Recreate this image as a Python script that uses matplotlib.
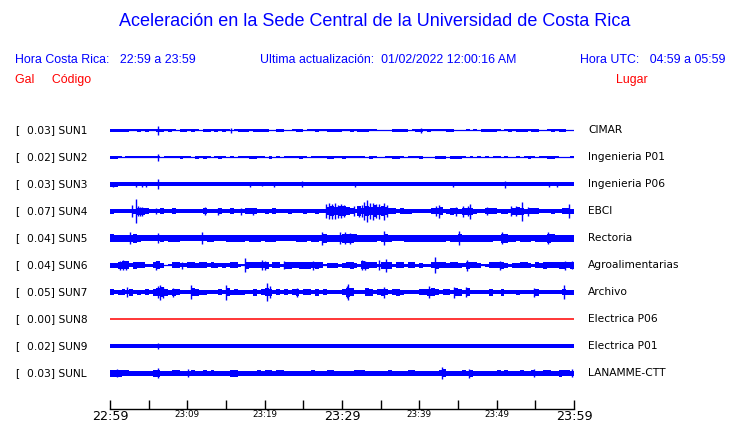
import numpy as np
import matplotlib
matplotlib.use("Agg")
import matplotlib.pyplot as plt

# ---------------- data ----------------
stations = ["SUN1", "SUN2", "SUN3", "SUN4", "SUN5", "SUN6", "SUN7", "SUN8", "SUN9", "SUNL"]
peaks = [0.03, 0.02, 0.03, 0.07, 0.04, 0.04, 0.05, 0.00, 0.02, 0.03]
places = ["CIMAR", "Ingenieria P01", "Ingenieria P06", "EBCI", "Rectoria",
          "Agroalimentarias", "Archivo", "Electrica P06", "Electrica P01", "LANAMME-CTT"]

# envelope half-width of each trace per half minute (base-36 digit, in half-pixel units)
env_sun1 = ("33333 22323 22332 32133 23213 32323 21233 32333 31133 11233 12232 23333 "
            "22323 33221 11133 33123 32322 22331 11212 13333 21232 33323 31123 23311")
env_sun2 = ("33212 22222 22212 22232 21323 21232 12122 23322 13121 22223 21222 23322 "
            "32222 21321 12233 21222 31113 33133 32121 21212 21211 21232 12233 21112")
env_sun3 = ("55444 44444 44444 44444 44444 44444 44444 44444 44444 44444 44444 44444 "
            "44444 44444 44444 44444 44444 44444 44444 44444 44444 44444 44444 44444")
env_sun4 = ("54444 45776 44464 46444 44446 44464 46444 66644 54644 45444 54454 48a8a "
            "a864a 6a8c8 a8664 65544 44466 84576 57775 44666 45547 87566 64445 44665")
env_sun5 = ("87777 79766 66676 77766 66666 77666 77777 67776 77766 66677 76776 97777 "
            "99987 77776 78766 67777 77777 77677 87777 77776 69977 67776 77798 77777")
env_sun6 = ("55788 47663 36851 26644 66566 46545 46632 76666 73663 77667 77676 25553 "
            "56753 87663 77736 63663 53367 66566 54766 52366 67535 56653 65766 67767")
env_sun7 = ("64564 74546 478a7 57644 48755 44464 85655 44746 87464 64674 66474 64444 "
            "69844 48746 76467 54444 66786 46648 74844 44474 47444 54444 74444 44655")
env_sun8 = ""
env_sun9 = ("44444 44444 44444 44444 44444 44444 44444 44444 44444 44444 44444 44444 "
            "44444 44444 44444 44444 44444 44444 44444 44444 44444 44444 44444 44444")
env_sunl = ("77766 55555 57755 56655 56556 56555 57755 55565 66566 55555 55655 56655 "
            "55566 65555 55655 55665 55555 68555 56575 55555 65655 56556 55665 57665")

# isolated spikes: (minute after 22:59, half-amplitude in pixels)
spikes_sun1 = [(6.25, 4.5), (15.7, 2.5), (40.2, 2.5)]
spikes_sun2 = [(6.25, 3.5)]
spikes_sun3 = [(0.4, 2.5), (3.4, 2.5), (4.1, 2.5), (4.7, 2.5), (6.25, 5), (18.1, 2.5),
               (19.6, 2), (21.2, 2.5), (24.8, 3), (31.7, 2.5), (44.3, 2.5), (51.1, 3.5),
               (56.8, 2.5), (57.85, 2.5)]
spikes_sun4 = [(2.8, 5.7), (3.36, 11.7), (3.6, 5), (3.9, 4.5), (4.2, 4.5), (6.0, 3),
               (12.3, 4), (14.0, 3.5), (17.0, 3.5), (18.5, 3.5),
               (27.9, 7), (28.3, 8), (28.7, 7.5), (29.1, 8), (29.5, 6.5), (29.9, 7),
               (30.3, 6), (31.6, 5), (32.2, 5.5), (32.6, 6), (32.9, 9), (33.2, 11),
               (33.6, 8), (34.0, 8.5), (34.4, 7), (34.8, 7.5), (35.4, 8.5), (35.8, 6),
               (42.2, 5), (42.5, 6.5), (44.8, 4.5), (45.6, 5.5), (46.3, 5), (46.6, 7.5),
               (48.8, 4), (51.9, 5), (52.5, 5), (53.3, 9.5), (54.0, 4.5), (59.4, 7)]
spikes_sun5 = [(2.6, 6), (6.25, 5), (11.85, 6), (27.4, 6.5), (29.7, 6), (30.4, 6),
               (31.0, 5.5), (35.4, 7), (45.1, 7), (50.7, 6), (56.6, 6)]
spikes_sun6 = [(1.3, 4.5), (1.7, 5), (2.1, 4.5), (6.0, 4.5), (9.3, 3.5), (17.4, 7),
               (19.6, 5), (20.0, 4.5), (22.5, 4), (26.3, 4.5), (32.6, 5), (33.0, 4.5),
               (34.8, 5), (35.7, 6.5), (42.0, 8), (46.1, 5.5), (50.4, 4.5), (58.9, 4.5),
               (59.8, 4)]
spikes_sun7 = [(2.15, 5), (6.2, 6), (6.5, 7.5), (6.9, 5.5), (8.2, 4.5), (10.5, 7),
               (15.0, 7.5), (20.3, 9), (20.7, 6), (24.2, 4.5), (30.6, 6), (30.8, 8),
               (35.4, 5.5), (41.25, 6), (44.5, 5.5), (46.0, 5), (54.8, 4.5), (58.7, 7)]
spikes_sun8 = []
spikes_sun9 = [(6.25, 3.3)]
spikes_sunl = [(0.85, 4), (6.25, 5), (10.1, 4), (42.97, 6), (46.4, 4.5), (54.8, 4),
               (59.8, 4)]

tick_minutes = [0, 5, 10, 15, 20, 25, 30, 35, 40, 45, 50, 55, 60]
tick_labels = ["22:59", "", "23:09", "", "23:19", "", "23:29", "", "23:39", "", "23:49", "", "23:59"]
big_ticks = ["22:59", "23:29", "23:59"]

envs = [env_sun1, env_sun2, env_sun3, env_sun4, env_sun5, env_sun6, env_sun7,
        env_sun8, env_sun9, env_sunl]
spikes = [spikes_sun1, spikes_sun2, spikes_sun3, spikes_sun4, spikes_sun5, spikes_sun6,
          spikes_sun7, spikes_sun8, spikes_sun9, spikes_sunl]

# ---------------- drawing ----------------
W, H = 740, 423
BLUE = "#0000ff"
RED = "#ff0000"
fig = plt.figure(figsize=(W / 100, H / 100), dpi=100)
fig.patch.set_facecolor("white")

PX = 27.0  # pixels per trace slot
ax = fig.add_axes([110 / W, 1 - 409 / H, 464 / W, 294 / H])
ax.set_xlim(0, 60)
ax.set_ylim(10.333, -0.5556)

for i, (env, sp) in enumerate(zip(envs, spikes)):
    if env == "":
        ax.plot([0, 60], [i, i], color="#ff0000", lw=1.1, solid_capstyle="butt")
        continue
    hw = np.array([int(c, 36) for c in env.replace(" ", "")]) * 0.5 / PX
    x = np.linspace(0, 60, len(hw) + 1)
    yv = np.append(hw, hw[-1])
    ax.fill_between(x, i - yv, i + yv, step="post", color=BLUE, lw=0)
    ax.plot([0, 60], [i, i], color=BLUE, lw=0.9, solid_capstyle="butt")
    if sp:
        m = np.array([s[0] for s in sp])
        a = np.array([s[1] for s in sp]) / PX
        ax.vlines(m, i - a, i + a, color=BLUE, lw=1.0)

for s in ["left", "right", "top"]:
    ax.spines[s].set_visible(False)
ax.spines["bottom"].set_linewidth(1.0)
ax.set_yticks([])
ax.set_xticks(tick_minutes)
ax.set_xticklabels(tick_labels)
ax.tick_params(axis="x", direction="in", length=6.5, width=1.0, pad=1.0, colors="black")
for lab in ax.get_xticklabels():
    lab.set_family("DejaVu Sans")
    if lab.get_text() in big_ticks:
        lab.set_fontsize(9.2)
    else:
        lab.set_fontsize(6.3)
ax.patch.set_alpha(0)


def ftext(x, y, s, **kw):
    fig.text(x / W, 1 - y / H, s, **kw)


hfont = "Liberation Sans"
ftext(375, 22, "Aceleración en la Sede Central de la Universidad de Costa Rica",
      ha="center", va="center", fontsize=13, color=BLUE, family=hfont)
ftext(15, 60, "Hora Costa Rica:   22:59 a 23:59", ha="left", va="center",
      fontsize=8.9, color=BLUE, family=hfont)
ftext(260, 60, "Ultima actualización:  01/02/2022 12:00:16 AM", ha="left", va="center",
      fontsize=8.9, color=BLUE, family=hfont)
ftext(725, 60, "Hora UTC:   04:59 a 05:59", ha="right", va="center",
      fontsize=8.9, color=BLUE, family=hfont)
ftext(15, 80, "Gal     Código", ha="left", va="center", fontsize=8.9, color=RED, family=hfont)
ftext(648, 80, "Lugar", ha="right", va="center", fontsize=8.9, color=RED, family=hfont)

for i, (st, pk, pl) in enumerate(zip(stations, peaks, places)):
    y = 130 + i * PX
    ftext(15, y, "[", ha="left", va="center", fontsize=7.7, family="DejaVu Sans")
    ftext(27, y, f"{pk:.2f}] {st}", ha="left", va="center", fontsize=7.7, family="DejaVu Sans")
    ftext(588, y, pl, ha="left", va="center", fontsize=7.7, family="DejaVu Sans")

fig.savefig("out.png", dpi=100, facecolor="white")
